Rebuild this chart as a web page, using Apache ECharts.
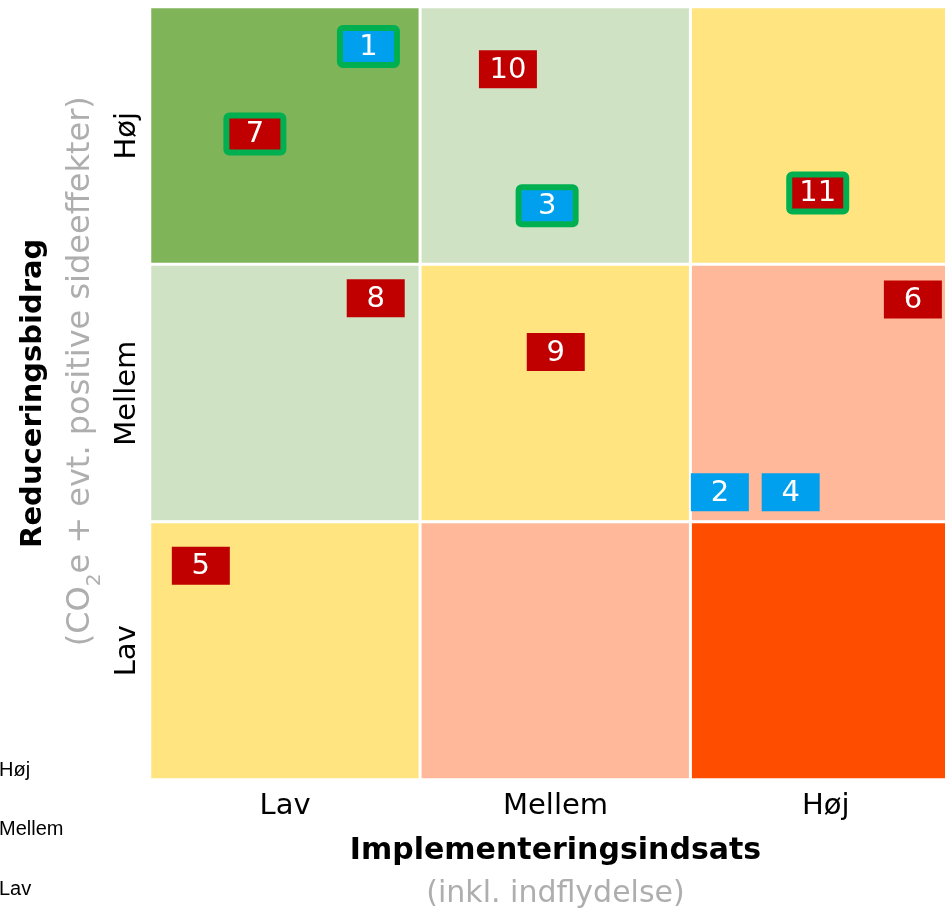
<!DOCTYPE html>
<html>
<head>
<meta charset="utf-8">
<script src="https://cdn.jsdelivr.net/npm/echarts@6/dist/echarts.min.js"></script>
<style>
  html, body { margin: 0; padding: 0; background: #fff; }
  #chart { width: 945px; height: 910px; }
</style>
</head>
<body>
<div id="chart"></div>
<script>
const levels = ["Lav", "Mellem", "Høj"];

// [effort index, reduction index, rating 0 (worst) .. 4 (best)]
const cells = [
  [0, 2, 4], [1, 2, 3], [2, 2, 2],
  [0, 1, 3], [1, 1, 2], [2, 1, 1],
  [0, 0, 2], [1, 0, 1], [2, 0, 0]
];

const markerIds = ["1", "2", "3", "4", "5", "6", "7", "8", "9", "10", "11"];
const markerEffort = [0.808, 2.108, 1.469, 2.370, 0.188, 2.822, 0.388, 0.835, 1.501, 1.324, 2.470];
const markerReduction = [2.847, 1.116, 2.228, 1.116, 0.830, 1.864, 2.507, 1.869, 1.660, 2.758, 2.278];
const markerGroup = ["A", "A", "A", "A", "B", "B", "B", "B", "B", "B", "B"];
const markerFramed = [true, false, true, false, false, false, true, false, false, false, true];

const ratingColors = ["#FF4D00", "#FFB899", "#FFE480", "#CFE2C3", "#80B458"];
const groupColors = { A: "#00A0EF", B: "#C00000" };
const FONT = "DejaVu Sans";

const chart = echarts.init(document.getElementById("chart"));

const markerData = markerIds.map((id, i) => ({
  name: id,
  value: [markerEffort[i], markerReduction[i], markerFramed[i] ? 1 : 0]
}));

function renderMarker(params, api) {
  const i = params.dataIndex;
  const p = api.coord([api.value(0), api.value(1)]);
  const framed = api.value(2) === 1;
  const fill = groupColors[markerGroup[i]];
  const box = framed
    ? {
        type: "rect",
        shape: { x: p[0] - 28.5, y: p[1] - 18.5, width: 57, height: 37, r: 3 },
        style: { fill, stroke: "#00B050", lineWidth: 6 }
      }
    : {
        type: "rect",
        shape: { x: p[0] - 29, y: p[1] - 19, width: 58, height: 38 },
        style: { fill }
      };
  return {
    type: "group",
    children: [
      box,
      {
        type: "text",
        style: {
          text: markerIds[i],
          x: p[0],
          y: p[1] + 1,
          align: "center",
          verticalAlign: "middle",
          fill: "#fff",
          fontSize: 29,
          fontFamily: FONT
        }
      }
    ]
  };
}

const legendTexts = ["Høj", "Mellem", "Lav"];
const legendY = [770, 829, 889];

chart.setOption({
  animation: false,
  backgroundColor: "#fff",
  grid: {
    left: 150,
    top: 7,
    width: 811,
    height: 772.5,
    containLabel: false,
    outerBoundsMode: "none"
  },
  xAxis: [
    {
      type: "category",
      data: levels,
      axisLine: { show: false },
      axisTick: { show: false },
      splitLine: { show: false },
      axisLabel: { color: "#000", fontSize: 29, fontFamily: FONT, margin: 12 },
      name: "{b|Implementeringsindsats}\n{g|(inkl. indflydelse)}",
      nameLocation: "middle",
      nameGap: 50,
      nameTextStyle: {
        rich: {
          b: { fontSize: 30, fontWeight: "bold", fontFamily: FONT, color: "#000", lineHeight: 43 },
          g: { fontSize: 30, fontFamily: FONT, color: "#AEAEAE", lineHeight: 43 }
        }
      }
    },
    { type: "value", min: 0, max: 3, show: false }
  ],
  yAxis: [
    {
      type: "category",
      data: levels,
      axisLine: { show: false },
      axisTick: { show: false },
      splitLine: { show: false },
      axisLabel: { color: "#000", fontSize: 29, fontFamily: FONT, rotate: 90, margin: 8 },
      name: "{b|Reduceringsbidrag}\n{g0|(CO}{s|2}{g|e + evt. positive sideeffekter)}",
      nameLocation: "middle",
      nameRotate: 90,
      nameGap: 38,
      nameTextStyle: {
        rich: {
          b: { fontSize: 29, fontWeight: "bold", fontFamily: FONT, color: "#000", lineHeight: 48 },
          g0: { fontSize: 32, fontFamily: FONT, color: "#AEAEAE", lineHeight: 48, padding: [0, 0, 0, 44] },
          g: { fontSize: 32, fontFamily: FONT, color: "#AEAEAE", lineHeight: 48 },
          s: { fontSize: 20, fontFamily: FONT, color: "#AEAEAE", lineHeight: 30, verticalAlign: "bottom" }
        }
      }
    },
    { type: "value", min: 0, max: 3, show: false }
  ],
  visualMap: {
    show: false,
    type: "piecewise",
    seriesIndex: 0,
    dimension: 2,
    pieces: ratingColors.map((color, r) => ({ value: r, color }))
  },
  graphic: legendTexts.map((t, i) => ({
    type: "text",
    x: -1,
    y: legendY[i],
    style: {
      text: t,
      fill: "#000",
      fontSize: 20,
      fontFamily: "Liberation Sans",
      verticalAlign: "middle"
    }
  })),
  series: [
    {
      type: "heatmap",
      xAxisIndex: 0,
      yAxisIndex: 0,
      data: cells,
      itemStyle: { borderColor: "#fff", borderWidth: 3 },
      label: { show: false },
      emphasis: { disabled: true }
    },
    {
      type: "custom",
      xAxisIndex: 1,
      yAxisIndex: 1,
      data: markerData,
      renderItem: renderMarker,
      clip: false,
      z: 5
    }
  ]
});
</script>
</body>
</html>
